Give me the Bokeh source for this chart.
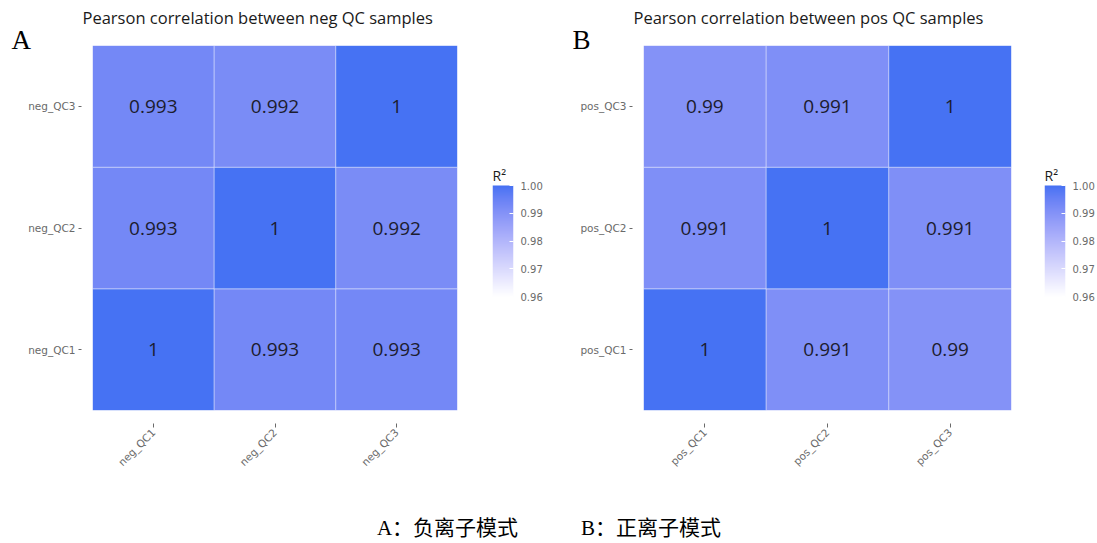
import numpy as np
from bokeh.plotting import figure
from bokeh.layouts import column, row
from bokeh.models import (ColumnDataSource, LinearColorMapper, FixedTicker, Title,
                          NumeralTickFormatter, LinearAxis, Range1d)
from bokeh.core.properties import value
from bokeh.embed import file_html
from bokeh.resources import INLINE

# ---------------- data ----------------
neg_samples = ["neg_QC1", "neg_QC2", "neg_QC3"]
neg_r2 = [  # rows = y sample, cols = x sample
    [1.000, 0.993, 0.993],   # neg_QC1
    [0.993, 1.000, 0.992],   # neg_QC2
    [0.993, 0.992, 1.000],   # neg_QC3
]
pos_samples = ["pos_QC1", "pos_QC2", "pos_QC3"]
pos_r2 = [
    [1.000, 0.991, 0.990],   # pos_QC1
    [0.991, 1.000, 0.991],   # pos_QC2
    [0.990, 0.991, 1.000],   # pos_QC3
]
neg_title = "Pearson correlation between neg QC samples"
pos_title = "Pearson correlation between pos QC samples"
cbar_ticks = [0.96, 0.97, 0.98, 0.99, 1.00]
cbar_low, cbar_high = 0.96, 1.00
cbar_title = "R²"
caption = "A：负离子模式　　　B：正离子模式"

# ---------------- palette (Lab interpolation white -> blue) ----------------
def srgb_to_lin(c):
    c = c / 255.0
    return np.where(c <= 0.04045, c / 12.92, ((c + 0.055) / 1.055) ** 2.4)

def lin_to_srgb(c):
    c = np.clip(c, 0, 1)
    return np.where(c <= 0.0031308, 12.92 * c, 1.055 * c ** (1 / 2.4) - 0.055) * 255

M = np.array([[0.4124, 0.3576, 0.1805], [0.2126, 0.7152, 0.0722], [0.0193, 0.1192, 0.9505]])
WHITE = np.array([0.95047, 1.0, 1.08883])

def f(t):
    d = 6 / 29
    return np.where(t > d ** 3, np.cbrt(t), t / (3 * d * d) + 4 / 29)

def finv(t):
    d = 6 / 29
    return np.where(t > d, t ** 3, 3 * d * d * (t - 4 / 29))

def rgb_to_lab(rgb):
    xyz = M @ srgb_to_lin(np.array(rgb, dtype=float)) / WHITE
    fx, fy, fz = f(xyz)
    return np.array([116 * fy - 16, 500 * (fx - fy), 200 * (fy - fz)])

def lab_to_hex(lab):
    L, a, b = lab
    fy = (L + 16) / 116
    xyz = np.array([finv(fy + a / 500), finv(fy), finv(fy - b / 200)]) * WHITE
    rgb = lin_to_srgb(np.linalg.inv(M) @ xyz)
    r, g, bb = [int(round(float(v))) for v in rgb]
    return "#%02x%02x%02x" % (max(0, min(255, r)), max(0, min(255, g)), max(0, min(255, bb)))

lo_lab = rgb_to_lab([255, 255, 255])
hi_lab = rgb_to_lab([0x46, 0x72, 0xF3])
palette = [lab_to_hex(lo_lab + (hi_lab - lo_lab) * t) for t in np.linspace(0, 1, 256)]

SANS = "Open Sans"
TICKFONT = "DejaVu Sans"
H = 495
TOP, FH = 45, 365
BOTTOM = H - TOP - FH


def heat_panel(samples, mat, title, letter, left, fw, right, letter_x):
    xs, ys, vals, labels = [], [], [], []
    for i, ysamp in enumerate(samples):
        for j, xsamp in enumerate(samples):
            xs.append(xsamp)
            ys.append(ysamp)
            vals.append(mat[i][j])
            labels.append(f"{mat[i][j]:g}")
    src = ColumnDataSource(dict(x=xs, y=ys, r=vals, lab=labels))
    mapper = LinearColorMapper(palette=palette, low=cbar_low, high=cbar_high)

    p = figure(x_range=samples, y_range=samples, frame_width=fw, frame_height=FH,
               min_border_left=left, min_border_right=right, min_border_top=TOP,
               min_border_bottom=BOTTOM, output_backend="svg", toolbar_location=None,
               background_fill_color="white", border_fill_color="white", title=None)
    p.outline_line_color = None
    p.grid.grid_line_color = None
    p.rect(x="x", y="y", width=1, height=1, source=src,
           fill_color={"field": "r", "transform": mapper},
           line_color="white", line_alpha=0.35, line_width=1)
    p.text(x="x", y="y", text="lab", source=src, text_align="center",
           text_baseline="middle", text_font=value(SANS), text_font_size="19px",
           text_color="#1c1c2e")

    for ax in (p.xaxis, p.yaxis):
        ax.axis_line_color = None
        ax.major_tick_line_color = "#6a6a6a"
        ax.minor_tick_line_color = None
        ax.major_label_text_font = TICKFONT
        ax.major_label_text_font_size = "10.5px"
        ax.major_label_text_color = "#6a6a6a"
    p.yaxis.major_tick_in = -11
    p.yaxis.major_tick_out = 14
    p.yaxis.major_label_standoff = 3
    p.xaxis.major_tick_in = -13
    p.xaxis.major_tick_out = 17
    p.xaxis.major_label_standoff = 3
    p.xaxis.major_label_orientation = np.pi / 4
    p.x_range.range_padding = 0
    p.y_range.range_padding = 0

    # panel letter (nearest the frame) then the main title above it
    p.add_layout(Title(text=letter, align="left", offset=letter_x - left,
                       text_font="Liberation Serif", text_font_size="27px",
                       text_font_style="normal", text_color="black", standoff=-18),
                 "above")
    p.add_layout(Title(text=title, align="left", offset=-10, text_font=SANS,
                       text_font_size="16.5px", text_font_style="normal",
                       text_color="#1a1a1a", standoff=5), "above")
    return p, mapper


def legend_panel(mapper, left, right, bar_top=185, bar_bottom=296):
    ppu = (bar_bottom - bar_top) / (cbar_high - cbar_low)
    y_start = cbar_low - (TOP + FH - bar_bottom) / ppu
    y_end = cbar_high + (bar_top - TOP) / ppu
    g = figure(x_range=Range1d(0, 1), y_range=Range1d(y_start, y_end), frame_width=21,
               frame_height=FH, min_border_left=left, min_border_right=right,
               min_border_top=TOP, min_border_bottom=BOTTOM, title=None,
               output_backend="svg", toolbar_location=None, y_axis_location=None)
    g.outline_line_color = None
    g.grid.grid_line_color = None
    g.xaxis.visible = False
    grad = np.linspace(cbar_low, cbar_high, 256).reshape(-1, 1)
    g.image(image=[grad], x=0, y=cbar_low, dw=1, dh=cbar_high - cbar_low,
            color_mapper=mapper)
    g.text(x=[0], y=[cbar_high + 10 / ppu], text=[cbar_title], text_align="left",
           text_baseline="alphabetic", text_font=value(SANS), text_font_size="14px",
           text_color="#1a1a1a")
    ax = LinearAxis(ticker=FixedTicker(ticks=cbar_ticks),
                    formatter=NumeralTickFormatter(format="0.00"))
    ax.axis_line_color = None
    ax.major_tick_line_color = "white"
    ax.major_tick_in = 4
    ax.major_tick_out = 0
    ax.minor_tick_line_color = None
    ax.major_label_text_font = TICKFONT
    ax.major_label_text_font_size = "10px"
    ax.major_label_text_color = "#6a6a6a"
    ax.major_label_standoff = 7
    g.add_layout(ax, "right")
    return g


pa, ma = heat_panel(neg_samples, neg_r2, neg_title, "A", 92, 365, 15, 11)
la = legend_panel(ma, 20, 35)
pb, mb = heat_panel(pos_samples, pos_r2, pos_title, "B", 95, 368, 15, 24)
lb = legend_panel(mb, 18, 32)

cap = figure(width=1097, height=48, x_range=(0, 1), y_range=(0, 48),
             output_backend="svg", toolbar_location=None, min_border=0)
cap.axis.visible = False
cap.grid.grid_line_color = None
cap.outline_line_color = None
cap.text(x=[0.5], y=[16], text=[caption], text_align="center", text_baseline="middle",
         text_font=value("'Liberation Serif', 'Noto Sans CJK SC'"), text_font_size="21px",
         text_color="black")

layout = column(row(pa, la, pb, lb), cap)
open("out.html", "w").write(file_html(layout, INLINE))
